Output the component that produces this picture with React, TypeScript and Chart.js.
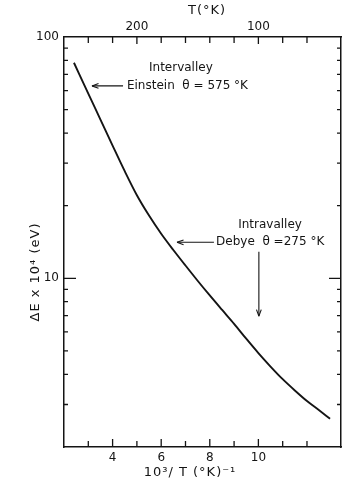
import React, { useEffect, useRef } from "react";
import { Chart, registerables } from "chart.js";
Chart.register(...registerables);

// 10^3 / T  (°K^-1)
const inverseT = [2.41, 3.0, 3.5, 4.0, 4.5, 5.0, 5.5, 6.0, 6.5, 7.0, 7.5, 8.0, 8.5, 9.0, 9.5, 10.0, 10.5, 11.0, 11.5, 12.0, 12.5, 12.95];
// ΔE x 10^4 (eV)
const deltaE = [78.2, 58.3, 45.5, 35.5, 27.8, 22.1, 18.2, 15.3, 13.1, 11.3, 9.77, 8.49, 7.41, 6.48, 5.62, 4.9, 4.31, 3.82, 3.43, 3.1, 2.84, 2.62];

const bottomTickValues = [3, 4, 5, 6, 7, 8, 9, 10, 11, 12];
const bottomTickLabels: Record<number, string> = { 4: "4", 6: "6", 8: "8", 10: "10" };
const topTickValues = [3, 4, 5, 6, 7, 8, 9, 10, 11, 12];
const topTickLabels: Record<number, string> = { 5: "200", 10: "100" };
const yMinorTicks = [3, 4, 5, 6, 7, 8, 9, 20, 30, 40, 50, 60, 70, 80, 90];
const yMajorTicks = [10];
const yTickLabels = [10, 100];

const FONT = '"DejaVu Sans", sans-serif';
const INK = "#141414";

export default function App() {
  const ref = useRef<HTMLCanvasElement | null>(null);

  useEffect(() => {
    const canvas = ref.current;
    if (!canvas) return;

    const decor = {
      id: "decor",
      afterDraw(chart: any) {
        const ctx = chart.ctx as CanvasRenderingContext2D;
        const xs = chart.scales.x;
        const ys = chart.scales.y;
        const { left, right, top, bottom } = chart.chartArea;
        ctx.save();
        ctx.strokeStyle = INK;
        ctx.fillStyle = INK;
        ctx.lineWidth = 1.3;
        ctx.beginPath();
        bottomTickValues.forEach((v) => {
          const px = xs.getPixelForValue(v);
          const len = bottomTickLabels[v] ? 8 : 6;
          ctx.moveTo(px, bottom);
          ctx.lineTo(px, bottom - len);
        });
        topTickValues.forEach((v) => {
          const px = xs.getPixelForValue(v);
          const len = topTickLabels[v] ? 7 : 6;
          ctx.moveTo(px, top);
          ctx.lineTo(px, top + len);
        });
        yMinorTicks.forEach((v) => {
          const py = ys.getPixelForValue(v);
          ctx.moveTo(left, py);
          ctx.lineTo(left + 4, py);
          ctx.moveTo(right, py);
          ctx.lineTo(right - 4, py);
        });
        yMajorTicks.forEach((v) => {
          const py = ys.getPixelForValue(v);
          ctx.moveTo(left, py);
          ctx.lineTo(left + 12, py);
          ctx.moveTo(right, py);
          ctx.lineTo(right - 12, py);
        });
        ctx.stroke();

        // axis titles
        (ctx as any).letterSpacing = "1px";
        ctx.font = `13px ${FONT}`;
        ctx.textAlign = "center";
        ctx.textBaseline = "middle";
        ctx.fillText("T(°K)", 207, 11);
        ctx.fillText("10³/ T (°K)⁻¹", 190, 473);
        ctx.save();
        ctx.translate(36, 272);
        ctx.rotate(-Math.PI / 2);
        ctx.fillText("ΔE x 10⁴ (eV)", 0, 0);
        ctx.restore();
        (ctx as any).letterSpacing = "0px";

        const arrow = (x1: number, y1: number, x2: number, y2: number) => {
          ctx.beginPath();
          ctx.moveTo(x1, y1);
          ctx.lineTo(x2, y2);
          ctx.stroke();
          const a = Math.atan2(y2 - y1, x2 - x1);
          ctx.beginPath();
          ctx.moveTo(x2, y2);
          ctx.lineTo(x2 - 7 * Math.cos(a - 0.35), y2 - 7 * Math.sin(a - 0.35));
          ctx.moveTo(x2, y2);
          ctx.lineTo(x2 - 7 * Math.cos(a + 0.35), y2 - 7 * Math.sin(a + 0.35));
          ctx.stroke();
        };
        ctx.lineWidth = 1.1;
        ctx.font = `12px ${FONT}`;
        ctx.textAlign = "center";
        ctx.fillText("Intervalley", xs.getPixelForValue(6.81), ys.getPixelForValue(74.5));
        ctx.textAlign = "left";
        ctx.fillText("Einstein  θ = 575 °K", xs.getPixelForValue(4.59), ys.getPixelForValue(62.7));
        arrow(xs.getPixelForValue(4.43), ys.getPixelForValue(62.7), xs.getPixelForValue(3.15), ys.getPixelForValue(62.7));

        ctx.textAlign = "center";
        ctx.fillText("Intravalley", xs.getPixelForValue(10.48), ys.getPixelForValue(16.6));
        ctx.textAlign = "left";
        ctx.fillText("Debye  θ =275 °K", xs.getPixelForValue(8.26), ys.getPixelForValue(14.1));
        arrow(xs.getPixelForValue(8.17), ys.getPixelForValue(14.1), xs.getPixelForValue(6.65), ys.getPixelForValue(14.1));
        arrow(xs.getPixelForValue(10.02), ys.getPixelForValue(12.9), xs.getPixelForValue(10.02), ys.getPixelForValue(6.97));
        ctx.restore();
      },
    };

    const tickFont = { family: FONT, size: 12 };
    const intLabel = (map: Record<number, string>) => (v: any) => {
      const n = Number(v);
      const r = Math.round(n);
      return Math.abs(n - r) < 1e-6 && map[r] ? map[r] : "";
    };
    const chart = new Chart(canvas, {
      type: "line",
      data: {
        datasets: [
          {
            data: inverseT.map((x, i) => ({ x, y: deltaE[i] })),
            borderColor: INK,
            borderWidth: 1.9,
            pointRadius: 0,
            fill: false,
            tension: 0.4,
            cubicInterpolationMode: "monotone",
          },
        ],
      },
      options: {
        responsive: false,
        animation: false,
        layout: { padding: 0 },
        plugins: { legend: { display: false }, tooltip: { enabled: false } },
        scales: {
          x: {
            type: "linear",
            position: "bottom",
            min: 2,
            max: 13.4,
            afterFit: (s: any) => { s.height = 38; },
            grid: { display: true, drawOnChartArea: false, drawTicks: false },
            border: { display: true, color: INK, width: 1.5 },
            ticks: { stepSize: 1, autoSkip: false, maxRotation: 0, padding: 4, color: INK, font: tickFont, callback: intLabel(bottomTickLabels) },
          },
          x2: {
            type: "linear",
            position: "top",
            min: 2,
            max: 13.4,
            afterFit: (s: any) => { s.height = 37; },
            grid: { display: true, drawOnChartArea: false, drawTicks: false },
            border: { display: true, color: INK, width: 1.5 },
            ticks: { stepSize: 1, autoSkip: false, maxRotation: 0, padding: 3, color: INK, font: tickFont, callback: intLabel(topTickLabels) },
          },
          y: {
            type: "logarithmic",
            position: "left",
            min: 2,
            max: 100,
            afterFit: (s: any) => { s.width = 64; },
            grid: { display: true, drawOnChartArea: false, drawTicks: false },
            border: { display: true, color: INK, width: 1.5 },
            ticks: {
              autoSkip: false,
              padding: 5,
              color: INK,
              font: tickFont,
              callback: (v: any) => (yTickLabels.some((t) => Math.abs(Number(v) - t) < 1e-6) ? String(Math.round(Number(v))) : ""),
            },
          },
          y2: {
            type: "logarithmic",
            position: "right",
            min: 2,
            max: 100,
            afterFit: (s: any) => { s.width = 4; },
            grid: { display: true, drawOnChartArea: false, drawTicks: false },
            border: { display: true, color: INK, width: 1.5 },
            ticks: { display: false },
          },
        },
      },
      plugins: [decor],
    } as any);

    return () => chart.destroy();
  }, []);

  return (
    <div style={{ position: "fixed", left: 0, top: 0, width: 345, height: 485, background: "#fff" }}>
      <canvas ref={ref} width={345} height={485} />
    </div>
  );
}
